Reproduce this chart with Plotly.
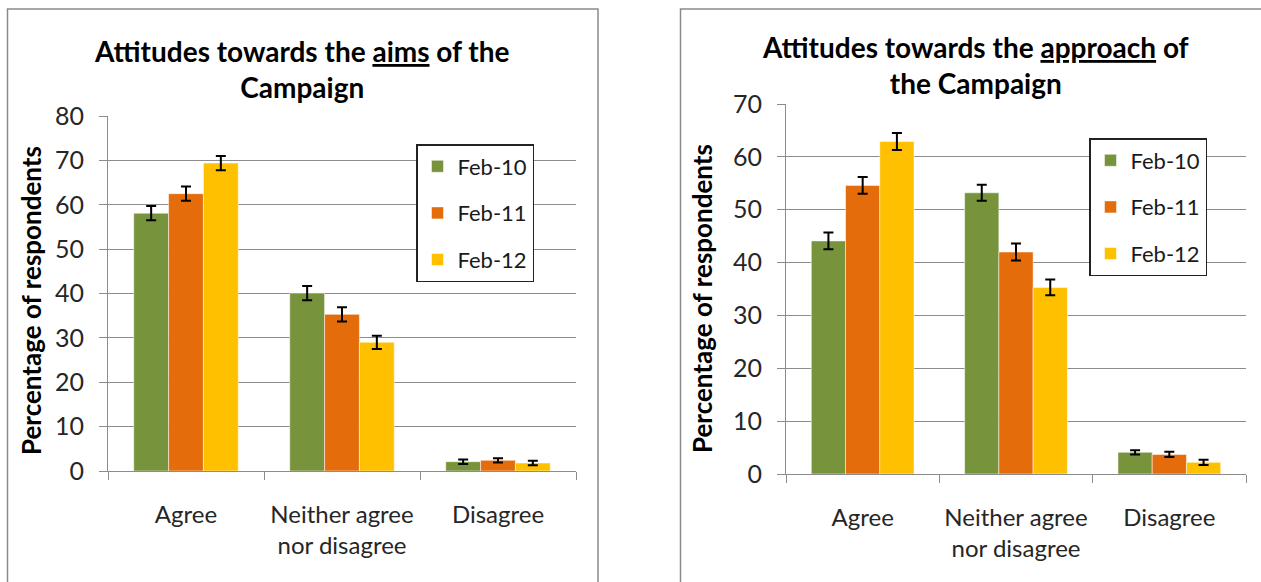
import plotly.graph_objects as go

# ---------------- data ----------------
categories = ["Agree", "Neither agree<br>nor disagree", "Disagree"]
series_names = ["Feb-10", "Feb-11", "Feb-12"]

aims_feb10 = [58.1, 40.1, 2.1]
aims_feb11 = [62.5, 35.3, 2.4]
aims_feb12 = [69.4, 29.0, 1.8]
aims_err_feb10 = [1.6, 1.6, 0.5]
aims_err_feb11 = [1.6, 1.6, 0.5]
aims_err_feb12 = [1.6, 1.5, 0.5]

approach_feb10 = [44.1, 53.2, 4.1]
approach_feb11 = [54.6, 42.0, 3.7]
approach_feb12 = [62.9, 35.3, 2.2]
approach_err_feb10 = [1.6, 1.5, 0.4]
approach_err_feb11 = [1.6, 1.6, 0.5]
approach_err_feb12 = [1.6, 1.5, 0.5]

aims_ticks = [0, 10, 20, 30, 40, 50, 60, 70, 80]
approach_ticks = [0, 10, 20, 30, 40, 50, 60, 70]

colors = ["#77933C", "#E46C0A", "#FFC000"]
FONT = "Lato"

W, H = 1261, 582


def px(x):
    return x / W


def py(y):
    return (H - y) / H


aims_vals = [aims_feb10, aims_feb11, aims_feb12]
aims_errs = [aims_err_feb10, aims_err_feb11, aims_err_feb12]
app_vals = [approach_feb10, approach_feb11, approach_feb12]
app_errs = [approach_err_feb10, approach_err_feb11, approach_err_feb12]

fig = go.Figure()

for i, name in enumerate(series_names):
    fig.add_trace(go.Bar(
        x=categories, y=aims_vals[i], name=name,
        marker=dict(color=colors[i], line=dict(color="rgba(255,255,255,0.5)", width=1)),
        error_y=dict(type="data", array=aims_errs[i], color="black", thickness=2, width=5),
        xaxis="x", yaxis="y", legend="legend", legendgroup="a" + name,
    ))
for i, name in enumerate(series_names):
    fig.add_trace(go.Bar(
        x=categories, y=app_vals[i], name=name,
        marker=dict(color=colors[i], line=dict(color="rgba(255,255,255,0.5)", width=1)),
        error_y=dict(type="data", array=app_errs[i], color="black", thickness=2, width=5),
        xaxis="x2", yaxis="y2", legend="legend2", legendgroup="b" + name,
    ))

grid = "#8c8c8c"
tickfont = dict(family=FONT, size=25, color="#262626")


def yax(rng, ticks, domain, anchor):
    return dict(range=rng, tickvals=ticks, domain=domain, anchor=anchor,
                showgrid=True, gridcolor=grid, gridwidth=1,
                showline=True, linecolor=grid, linewidth=1,
                ticks="outside", ticklen=8, tickcolor=grid,
                ticklabelstandoff=10,
                zeroline=False, tickfont=tickfont, fixedrange=True,
                automargin=False)


def xax(domain, anchor):
    return dict(domain=domain, anchor=anchor, showline=True, linecolor=grid,
                linewidth=1, ticks="outside", tickson="boundaries", ticklen=8,
                tickcolor=grid, tickfont=dict(family=FONT, size=24, color="#262626"),
                ticklabelstandoff=22, fixedrange=True, automargin=False)


legend_common = dict(bgcolor="white", bordercolor="#222", borderwidth=1.5,
                     font=dict(family=FONT, size=22, color="#1a1a1a"),
                     traceorder="grouped", tracegroupgap=15,
                     xanchor="left", yanchor="top")

fig.update_layout(
    template="none",
    width=W, height=H,
    margin=dict(l=0, r=0, t=0, b=0, autoexpand=False),
    paper_bgcolor="white", plot_bgcolor="white",
    barmode="group", bargap=0.33, bargroupgap=0,
    font=dict(family=FONT),
    xaxis=xax([px(108), px(576)], "y"),
    yaxis=yax([0, 80], aims_ticks, [py(471), py(116)], "x"),
    xaxis2=xax([px(786), px(1246)], "y2"),
    yaxis2=yax([0, 70], approach_ticks, [py(474), py(104)], "x2"),
    legend=dict(x=px(416), y=py(144), **legend_common),
    legend2=dict(x=px(1089), y=py(138), **legend_common),
    showlegend=True,
)

# chart borders
fig.add_shape(type="rect", xref="paper", yref="paper",
              x0=px(7.5), x1=px(598), y0=-0.05, y1=py(9),
              line=dict(color="#8a8a8a", width=1.5), layer="below")
fig.add_shape(type="rect", xref="paper", yref="paper",
              x0=px(680.5), x1=1.05, y0=-0.05, y1=py(9),
              line=dict(color="#8a8a8a", width=1.5), layer="below")

title_font = dict(family=FONT, size=28, color="black")
fig.add_annotation(text="<b>Attitudes towards the <u>aims</u> of the<br>Campaign</b>",
                   xref="paper", yref="paper", x=px(302), y=py(69),
                   xanchor="center", yanchor="middle", showarrow=False,
                   font=title_font, align="center")
fig.add_annotation(text="<b>Attitudes towards the <u>approach</u> of<br>the Campaign</b>",
                   xref="paper", yref="paper", x=px(975), y=py(65),
                   xanchor="center", yanchor="middle", showarrow=False,
                   font=title_font, align="center")

ytitle_font = dict(family=FONT, size=26, color="black")
fig.add_annotation(text="<b>Percentage of respondents</b>", textangle=-90,
                   xref="paper", yref="paper", x=px(31), y=py(301),
                   xanchor="center", yanchor="middle", showarrow=False,
                   font=ytitle_font)
fig.add_annotation(text="<b>Percentage of respondents</b>", textangle=-90,
                   xref="paper", yref="paper", x=px(702), y=py(299),
                   xanchor="center", yanchor="middle", showarrow=False,
                   font=ytitle_font)

fig.write_html(
    "out.html",
    config={"displayModeBar": False, "staticPlot": True},
    post_script="document.body.style.margin='0';document.body.style.overflow='hidden';",
)
